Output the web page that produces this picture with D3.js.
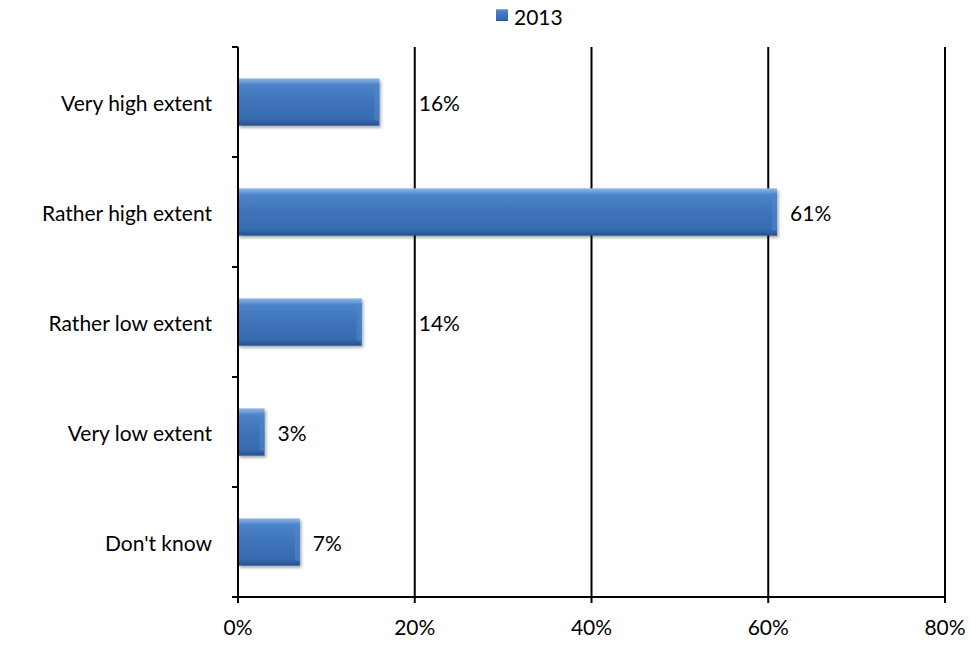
<!DOCTYPE html>
<html>
<head>
<meta charset="utf-8">
<script src="https://cdn.jsdelivr.net/npm/d3@7"></script>
<style>
  html, body { margin: 0; padding: 0; background: #fff; }
  svg text { font-family: Lato, "Open Sans", sans-serif; fill: #000; }
</style>
</head>
<body>
<svg id="chart" width="970" height="648"></svg>
<script>
// Survey answers and their shares (percent)
const categories = ["Very high extent", "Rather high extent", "Rather low extent", "Very low extent", "Don't know"];
const values2013 = [16, 61, 14, 3, 7];
const xTicks = [0, 20, 40, 60, 80];
const seriesName = "2013";

const svg = d3.select("#chart");
const margin = { left: 238, right: 25, top: 47, bottom: 51 };
const W = 970, H = 648;
const fontSize = 21;

const x = d3.scaleLinear().domain([0, 80]).range([margin.left, W - margin.right]);
const y = d3.scaleBand().domain(categories).range([margin.top, H - margin.bottom]).paddingInner(0.57).paddingOuter(0.285);

// Bar fill: vertical gradient with bevelled edges
const defs = svg.append("defs");
const grad = defs.append("linearGradient").attr("id", "barFill").attr("x1", 0).attr("y1", 0).attr("x2", 0).attr("y2", 1);
grad.append("stop").attr("offset", "0%").attr("stop-color", "#93b8e6");
grad.append("stop").attr("offset", "14%").attr("stop-color", "#4c83c9");
grad.append("stop").attr("offset", "50%").attr("stop-color", "#3d73ba");
grad.append("stop").attr("offset", "86%").attr("stop-color", "#376cb1");
grad.append("stop").attr("offset", "100%").attr("stop-color", "#24508c");
const shadow = defs.append("filter").attr("id", "shadow").attr("x", "-10%").attr("y", "-20%").attr("width", "130%").attr("height", "160%");
shadow.append("feDropShadow").attr("dx", 1.5).attr("dy", 2).attr("stdDeviation", 1.5).attr("flood-color", "#000").attr("flood-opacity", 0.35);

// Vertical gridlines
svg.append("g").selectAll("line").data(xTicks.filter(d => d > 0)).join("line")
  .attr("x1", d => x(d)).attr("x2", d => x(d))
  .attr("y1", margin.top).attr("y2", H - margin.bottom)
  .attr("stroke", "#000").attr("stroke-width", 2);

// Bars
const bars = svg.append("g").selectAll("g").data(categories).join("g");
bars.append("rect")
  .attr("x", x(0)).attr("y", d => y(d))
  .attr("width", (d, i) => x(values2013[i]) - x(0))
  .attr("height", y.bandwidth())
  .attr("fill", "url(#barFill)")
  .attr("filter", "url(#shadow)");
// bevel: lighter right edge
bars.append("rect")
  .attr("x", (d, i) => x(values2013[i]) - 5).attr("y", d => y(d) + 5)
  .attr("width", 5).attr("height", y.bandwidth() - 10)
  .attr("fill", "#4f86cc").attr("opacity", 0.6);

// Value labels, nudged past a gridline when they would sit on or near it
svg.append("g").selectAll("text").data(categories).join("text")
  .attr("font-size", fontSize)
  .attr("dominant-baseline", "central")
  .attr("y", d => y(d) + y.bandwidth() / 2)
  .text((d, i) => values2013[i] + "%")
  .attr("x", function (d, i) {
    const w = this.getComputedTextLength();
    let lx = x(values2013[i]) + 13;
    const hit = xTicks.find(t => t > 0 && x(t) > lx - 4 && x(t) < lx + w + 10);
    if (hit !== undefined) lx = x(hit) + 4;
    return lx;
  });

// Y axis
const yAxis = svg.append("g").attr("transform", `translate(${x(0)},0)`);
yAxis.append("line").attr("x1", 0).attr("x2", 0).attr("y1", margin.top).attr("y2", H - margin.bottom + 6)
  .attr("stroke", "#000").attr("stroke-width", 2);
const yBounds = categories.map(c => y(c) - y.step() * y.paddingInner() / 2);
yBounds.push(H - margin.bottom);
yAxis.selectAll("line.tick").data(yBounds).join("line").attr("class", "tick")
  .attr("x1", -6).attr("x2", 0).attr("y1", d => d).attr("y2", d => d)
  .attr("stroke", "#000").attr("stroke-width", 2);
yAxis.selectAll("text").data(categories).join("text")
  .attr("x", -26).attr("y", d => y(d) + y.bandwidth() / 2)
  .attr("text-anchor", "end").attr("dominant-baseline", "central")
  .attr("font-size", fontSize).text(d => d);

// X axis
const xAxis = svg.append("g").attr("transform", `translate(0,${H - margin.bottom})`);
xAxis.append("line").attr("x1", x(0) - 6).attr("x2", x(80)).attr("y1", 0).attr("y2", 0)
  .attr("stroke", "#000").attr("stroke-width", 2);
xAxis.selectAll("line.tick").data(xTicks).join("line").attr("class", "tick")
  .attr("x1", d => x(d)).attr("x2", d => x(d)).attr("y1", 0).attr("y2", 6)
  .attr("stroke", "#000").attr("stroke-width", 2);
xAxis.selectAll("text").data(xTicks).join("text")
  .attr("x", d => x(d)).attr("y", 38)
  .attr("text-anchor", "middle").attr("font-size", fontSize)
  .text(d => d + "%");

// Legend
const legend = svg.append("g");
legend.append("rect").attr("x", 496).attr("y", 9).attr("width", 12).attr("height", 12)
  .attr("fill", "url(#barFill)");
legend.append("text").attr("x", 514).attr("y", 16).attr("dominant-baseline", "central")
  .attr("font-size", fontSize).text(seriesName);
</script>
</body>
</html>
